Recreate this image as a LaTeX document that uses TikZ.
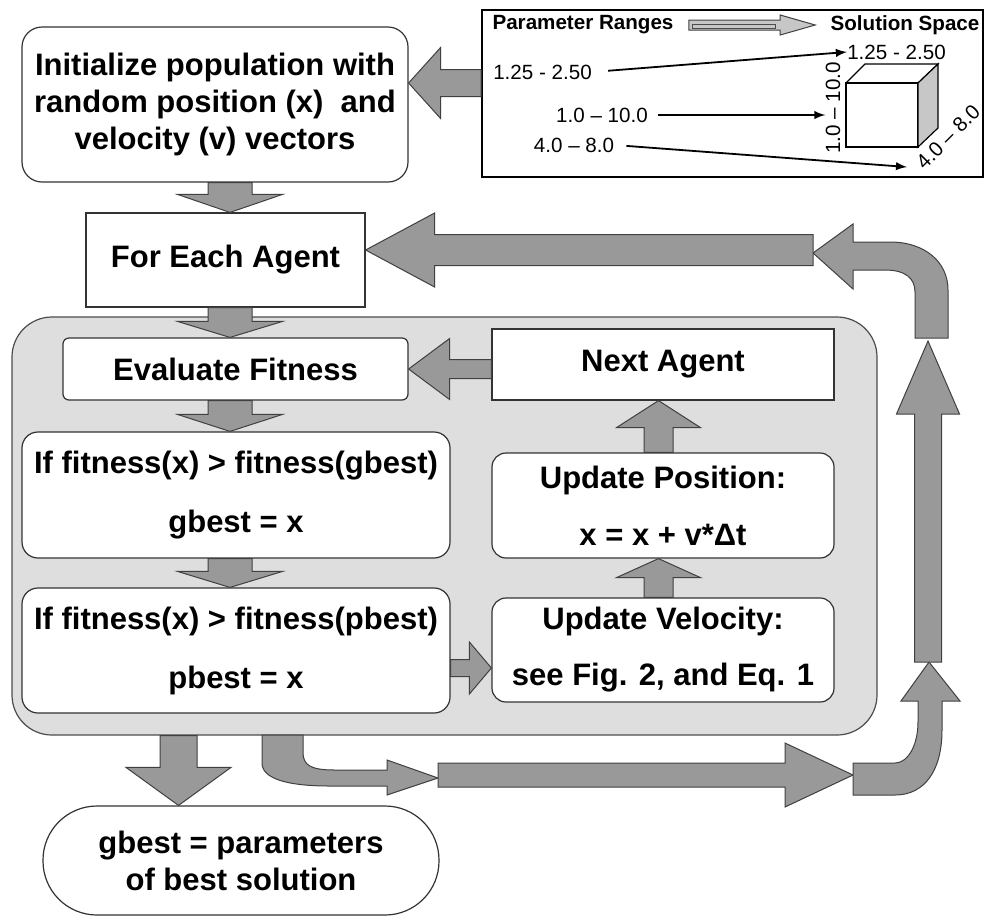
\documentclass[tikz,border=0pt]{standalone}
\usepackage{fontspec}
\setmainfont{Liberation Sans}
\usetikzlibrary{calc}

% fat block arrow: [style]{from}{tip}{shaft half width}{head half width}{head length}
\newcommand{\blockarrow}[6][fat]{%
  \coordinate (ba) at ($(#3)!#6!(#2)$);
  \draw[#1] ($(#2)!#4!90:(#3)$) -- ($(ba)!#4!90:(#3)$) -- ($(ba)!#5!90:(#3)$) -- (#3)
    -- ($(ba)!#5!-90:(#3)$) -- ($(ba)!#4!-90:(#3)$) -- ($(#2)!#4!-90:(#3)$) -- cycle;}

\begin{document}
\begin{tikzpicture}[x=0.5pt, y=-0.5pt,
  flowbox/.style={draw=black!80, line width=0.6pt, fill=white, inner sep=0pt, align=center,
    font=\bfseries\fontsize{15.5}{18.5}\selectfont},
  rbox/.style={flowbox, rounded corners=#1},
  fat/.style={draw=black!75, line width=0.5pt, fill=black!40},
  pale/.style={draw=black!75, line width=0.5pt, fill=black!22},
  rng/.style={font=\fontsize{10.3}{12}\selectfont, inner sep=0pt},
  rngtitle/.style={font=\bfseries\fontsize{10.3}{12}\selectfont, inner sep=0pt},
  rngarrow/.style={-latex, line width=0.9pt}]
  \useasboundingbox (0,0) rectangle (985,917);

  % parameter ranges -> solution space
  \node[draw, line width=1pt, minimum width=250.5pt, minimum height=83.5pt] (inset) at (732.5,93.5) {};
  \node[rngtitle] (ptitle) at (583,25) {Parameter Ranges};
  \node[rngtitle] (stitle) at (905,25) {Solution Space};
  \node[rng] (r1) at (542.5,72) {1.25 - 2.50};
  \node[rng] (r2) at (602,115) {1.0 – 10.0};
  \node[rng] (r3) at (574,145) {4.0 – 8.0};
  \node[rng] (a1) at (896.5,52) {1.25 - 2.50};
  \node[rng, rotate=90] (a2) at (833,108) {1.0 – 10.0};
  \node[rng, rotate=45] (a3) at (948,137) {4.0 – 8.0};
  \draw[line width=0.6pt] (846,83) rectangle (918,147);
  \draw[line width=0.6pt] (846,83) -- (865,64) -- (938,64) -- (918,83);
  \draw[line width=0.6pt, fill=black!22] (918,83) -- (938,64) -- (938,128) -- (918,147) -- cycle;
  \coordinate (r3tip) at (907,167);
  \draw[rngarrow, shorten <=8pt] (r1.east) -- (a1.west);
  \draw[rngarrow, shorten <=5pt] (r2.east) -- (r2.east -| a2.north);
  \draw[rngarrow, shorten <=6pt] (r3.east) -- (r3tip);
  \blockarrow[pale]{[xshift=7.5pt]ptitle.east}{[xshift=-7.5pt]stitle.west}{2.5pt}{5pt}{17.5pt}
  \draw[black!70, line width=0.4pt] (692,24) rectangle (775,28);

  % main flow
  \node[rbox=10pt, minimum width=193pt, minimum height=77.5pt] (init) at (215,104.5)
    {Initialize population with\\random position (x)~ and\\velocity (v) vectors};
  \node[flowbox, minimum width=139.5pt, minimum height=47pt] (foreach) at (225.5,260) {For Each Agent};
  \node[draw=black!70, line width=0.6pt, fill=black!13, rounded corners=20pt,
    minimum width=432.5pt, minimum height=209pt] (loop) at (444.5,526) {};
  \node[rbox=3pt, minimum width=172.5pt, minimum height=31pt] (evalfit) at (235.5,369) {Evaluate Fitness};
  \node[flowbox, minimum width=171pt, minimum height=35.5pt] (nextag) at (663,364.5) {Next Agent};
  \node[rbox=8pt, minimum width=214pt, minimum height=63pt] (gbestbox) at (236,495)
    {If fitness(x) > fitness(gbest)\\[11pt]gbest = x};
  \node[rbox=8pt, minimum width=214pt, minimum height=62.5pt] (pbestbox) at (236,650.5)
    {If fitness(x) > fitness(pbest)\\[11pt]pbest = x};
  \node[rbox=7pt, minimum width=171pt, minimum height=52.5pt] (updpos) at (663,505.5)
    {Update Position:\\[10pt]x = x + v*Δt};
  \node[rbox=7pt, minimum width=171pt, minimum height=52pt] (updvel) at (663,650)
    {Update Velocity:\\[9.5pt]see Fig. 2, and Eq. 1};
  \node[rbox=27pt, minimum width=198pt, minimum height=54.5pt] (result) at (241,860.5)
    {gbest = parameters\\of best solution};

  \coordinate (colL) at (230,0);
  \coordinate (colR) at (658.5,0);
  \coordinate (colB) at (178.5,0);
  \coordinate (rowI) at (0,83);
  \coordinate (rowA) at (0,250);
  \coordinate (rowV) at (0,668);

  \blockarrow{inset.west |- rowI}{init.east |- rowI}{6.75pt}{17.75pt}{16pt}
  \blockarrow{colL |- init.south}{colL |- foreach.north}{11pt}{26.25pt}{9pt}
  \blockarrow{colL |- foreach.south}{colL |- evalfit.north}{11pt}{26.25pt}{8pt}
  \blockarrow{colL |- evalfit.south}{colL |- gbestbox.north}{11pt}{26.25pt}{8.5pt}
  \blockarrow{colL |- gbestbox.south}{colL |- pbestbox.north}{11pt}{26.25pt}{8pt}
  \blockarrow{nextag.west |- evalfit.east}{evalfit.east}{4.75pt}{15.25pt}{20.5pt}
  \blockarrow{colR |- updvel.north}{colR |- updpos.south}{7.25pt}{21pt}{9.5pt}
  \blockarrow{colR |- updpos.north}{colR |- nextag.south}{7.25pt}{21pt}{13.5pt}
  \blockarrow{pbestbox.east |- rowV}{updvel.west |- rowV}{4.25pt}{13pt}{11pt}
  \blockarrow{colB |- loop.south}{colB |- result.north}{9.25pt}{26.25pt}{19pt}

  % way back to the next iteration
  \coordinate (low1) at (438,775);
  \coordinate (low2) at (853,775);
  \coordinate (up1) at (928,662);
  \coordinate (up2) at (928,341);
  \coordinate (top1) at (813,250);
  \draw[fat] (262,735) -- (262,763) .. controls (262,778) and (285,786) .. (330,786) -- (387,786)
    -- (387,795) -- (438,778) -- (387,760) -- (387,770) -- (335,770)
    .. controls (310,770) and (303,765) .. (303,752) -- (303,735) -- cycle;
  \blockarrow{low1}{low2}{6pt}{16pt}{34pt}
  \draw[fat] (853,763) -- (895,763) .. controls (908,763) and (918,745) .. (918,722) -- (918,701)
    -- (901,701) -- (929,662) -- (960,701) -- (942,701) -- (942,730)
    .. controls (942,770) and (925,795) .. (895,795) -- (853,795) -- cycle;
  \blockarrow{up1}{up2}{6.75pt}{15.75pt}{36.5pt}
  \draw[fat] (915,338) -- (915,292) .. controls (915,278) and (905,270) .. (885,270) -- (853,270)
    -- (853,289) -- (813,253) -- (853,224) -- (853,242) -- (890,242)
    .. controls (925,242) and (948,262) .. (948,290) -- (948,338) -- cycle;
  \blockarrow{top1}{foreach.east |- rowA}{7.75pt}{18.5pt}{34.5pt}
\end{tikzpicture}
\end{document}
